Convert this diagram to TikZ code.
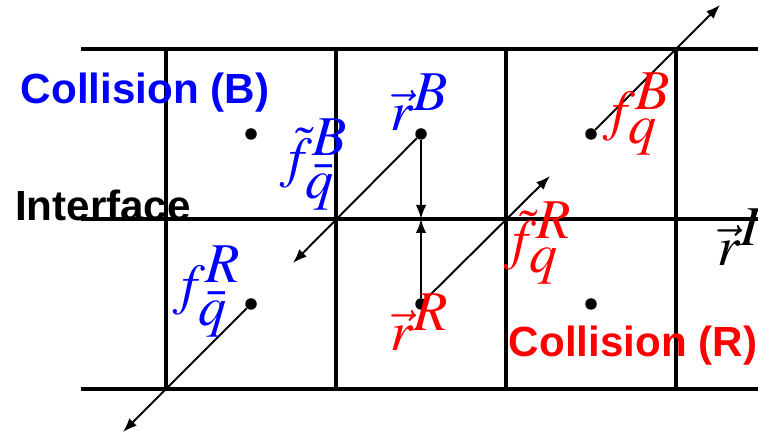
\documentclass[tikz,border=0pt]{standalone}
\usepackage{mathptmx}
\usepackage{fontspec}
\setsansfont{Liberation Sans}
\usetikzlibrary{arrows.meta,positioning}
\definecolor{collblue}{RGB}{0,0,255}
\definecolor{collred}{RGB}{255,0,0}
\tikzset{>={Latex[length=2.8mm,width=2.1mm]},
  gridline/.style={line width=1.8pt},
  flux/.style={->,line width=1.1pt},
  cellpt/.style={circle,fill=black,inner sep=0pt,minimum size=2.3mm},
  tag/.style={font=\sffamily\bfseries\fontsize{24}{28}\selectfont,inner sep=0pt},
  sym/.style={font=\fontsize{32}{38}\selectfont,inner sep=0pt}}
\newcommand{\up}[1]{{\textstyle #1}}

\begin{document}
\begin{tikzpicture}[x=1cm,y=1cm]
\useasboundingbox (0,0) rectangle (15.16,8.7);

% cells across the interface
\foreach \y in {0.92,4.32,7.72} \draw[gridline] (1.62,\y) -- (15.16,\y);
\foreach \x in {3.32,6.72,10.12,13.52} \draw[gridline] (\x,0.92) -- (\x,7.72);

\node[cellpt] (cB) at (5.02,6.02) {};\node[cellpt] (rB) at (8.42,6.02) {};\node[cellpt] (qB) at (11.82,6.02) {};
\node[cellpt] (qbR) at (5.02,2.62) {};\node[cellpt] (rR) at (8.42,2.62) {};\node[cellpt] (cR) at (11.82,2.62) {};
\coordinate (face) at (8.42,4.32);
\coordinate (qbRend) at (2.46,0.06);\coordinate (rBend) at (5.86,3.44);
\coordinate (rRend) at (11.0,5.18);\coordinate (qBend) at (14.4,8.6);

\draw[flux] (qbR) -- (qbRend);\draw[flux] (rB) -- (rBend);
\draw[flux] (rR) -- (rRend);\draw[flux] (qB) -- (qBend);
\draw[flux] (rB) -- (face);\draw[flux] (rR) -- (face);

\node[tag,collblue] (collB) at (2.9,6.84) {Collision (B)};
\node[tag] (iface) at (2.06,4.6) {Interface};
\node[tag,collred] (collR) at (12.66,1.78) {Collision (R)};

\node[sym,collblue] (ftB) at (6.28,5.4) {$\tilde f^{\up B}_{\up{\bar q}}$};
\node[sym,collblue] (lrB) at (8.4,6.66) {$\vec r^{\up B}$};
\node[sym,collred] (fB) at (12.74,6.42) {$f^{\up B}_{\up q}$};
\node[sym,collred] (ftR) at (10.76,3.84) {$\tilde f^{\up R}_{\up q}$};
\node[sym,collblue] (fR) at (4.14,2.86) {$f^{\up R}_{\up{\bar q}}$};
\node[sym,collred] (lrR) at (8.4,2.26) {$\vec r^{\up R}$};
\node[sym,anchor=west] (lrI) at (14.34,3.96) {$\vec r^{\up I}$};
\end{tikzpicture}
\end{document}
